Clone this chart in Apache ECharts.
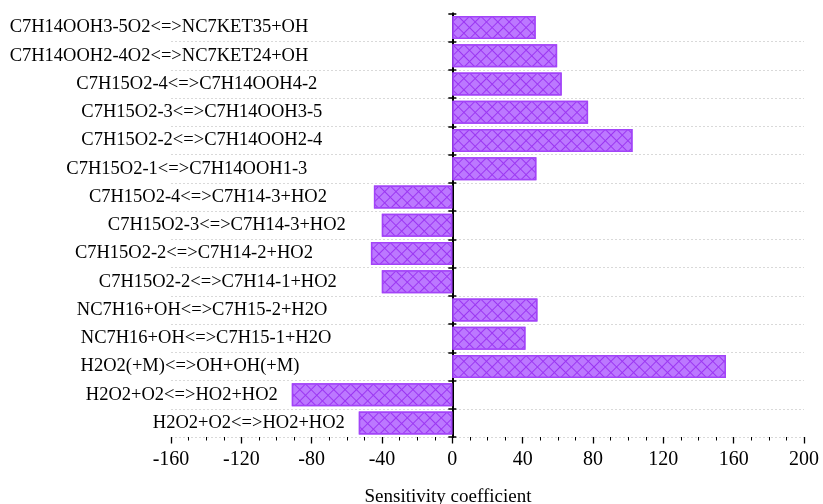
<!DOCTYPE html>
<html><head><meta charset="utf-8">
<script src="https://cdn.jsdelivr.net/npm/echarts@6/dist/echarts.min.js"></script>
<style>html,body{margin:0;padding:0;background:#fff}#c{width:823px;height:504px}</style>
</head><body><div id="c"></div>
<script>
// Reactions, top to bottom as shown
const reactions = [
  'C7H14OOH3-5O2<=>NC7KET35+OH',
  'C7H14OOH2-4O2<=>NC7KET24+OH',
  'C7H15O2-4<=>C7H14OOH4-2',
  'C7H15O2-3<=>C7H14OOH3-5',
  'C7H15O2-2<=>C7H14OOH2-4',
  'C7H15O2-1<=>C7H14OOH1-3',
  'C7H15O2-4<=>C7H14-3+HO2',
  'C7H15O2-3<=>C7H14-3+HO2',
  'C7H15O2-2<=>C7H14-2+HO2',
  'C7H15O2-2<=>C7H14-1+HO2',
  'NC7H16+OH<=>C7H15-2+H2O',
  'NC7H16+OH<=>C7H15-1+H2O',
  'H2O2(+M)<=>OH+OH(+M)',
  'H2O2+O2<=>HO2+HO2',
  'H2O2+O2<=>HO2+HO2'
];
const sensitivity = [47.4, 59.6, 62.2, 77.2, 102.5, 47.8, -44.6, -40.1, -46.3, -40.1, 48.4, 41.6, 155.6, -91.3, -53.2];
const xTickLabels = ['-160','-120','-80','-40','0','40','80','120','160','200'];
// layout: gap (px) between each reaction label and the left end of its bar
const labelGap = [144, 144, 135, 130, 130, 145, 47, 36, 58, 45, 125, 121, 153, 14, 14];

const idx = reactions.map((_, i) => String(i));
const font = 'Liberation Serif, Times New Roman, serif';
const chart = echarts.init(document.getElementById('c'), null, {renderer: 'canvas'});
chart.setOption({
  animation: false,
  backgroundColor: '#fff',
  grid: {left: 171, right: 19, top: 13.5, bottom: 67, outerBoundsMode: 'none', containLabel: false},
  xAxis: [{
    type: 'value', min: -160, max: 200, interval: 40,
    axisLine: {onZero: false, lineStyle: {color: '#000', width: 1.5}},
    axisTick: {show: true, inside: false, length: 6.5, lineStyle: {color: '#000', width: 1.3}},
    minorTick: {show: true, splitNumber: 4, length: 3.5, lineStyle: {color: '#000', width: 1}},
    splitLine: {show: false},
    axisLabel: {
      color: '#000', fontFamily: font, fontSize: 20, margin: 13,
      formatter: (v) => { const k = Math.round((v + 160) / 40); return xTickLabels[k] !== undefined ? xTickLabels[k] : String(v); }
    }
  }, {
    type: 'value', min: -160, max: 200, interval: 40, position: 'top', show: false
  }],
  yAxis: [{
    type: 'category', data: idx, inverse: true,
    axisLine: {onZero: true, onZeroAxisIndex: 0, lineStyle: {color: '#000', width: 2}},
    axisTick: {show: true, inside: false, length: 4, lineStyle: {color: '#000', width: 1.5}},
    axisLabel: {show: false},
    splitLine: {show: true, showMinLine: false, lineStyle: {color: '#d9d9d9', type: [2, 2], width: 1}}
  }, {
    type: 'category', data: idx, inverse: true, position: 'right',
    axisLine: {onZero: true, onZeroAxisIndex: 1, lineStyle: {color: '#000', width: 2}},
    axisTick: {show: true, inside: false, length: 4, lineStyle: {color: '#000', width: 1.5}},
    axisLabel: {show: false},
    splitLine: {show: false}
  }],
  series: [{
    type: 'bar',
    xAxisIndex: 0,
    yAxisIndex: 0,
    barWidth: 23,
    data: sensitivity.map((v, i) => ({value: v, label: {distance: labelGap[i]}})),
    itemStyle: {
      color: '#bb74ff',
      borderColor: '#a244f8',
      borderWidth: 1.5,
      decal: {
        symbol: 'rect', symbolSize: 1,
        color: '#bc78ff', backgroundColor: '#9b36f2',
        dashArrayX: [7, 1], dashArrayY: [7, 1],
        rotation: Math.PI / 4
      }
    },
    label: {
      show: true, position: 'left',
      color: '#000', fontFamily: font, fontSize: 18.5,
      formatter: (p) => reactions[p.dataIndex]
    }
  }],
  graphic: [{
    type: 'text', x: 448, y: 497,
    style: {text: 'Sensitivity coefficient', fill: '#000', font: '19px ' + font, textAlign: 'center', textVerticalAlign: 'middle', verticalAlign: 'middle'}
  }]
});
</script>
</body></html>
